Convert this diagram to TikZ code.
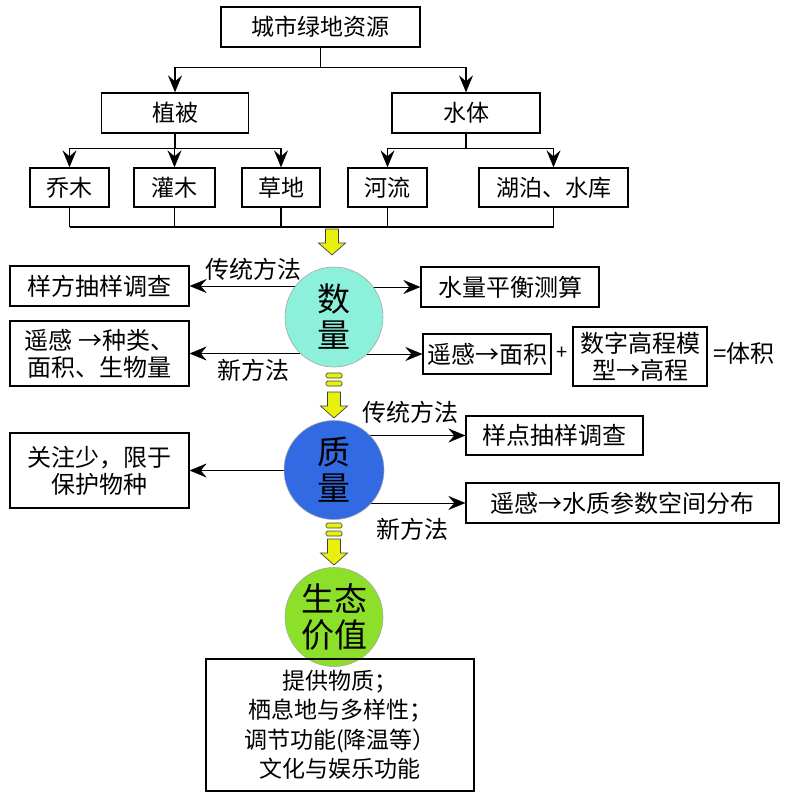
\documentclass[tikz,border=0pt]{standalone}
\usepackage{fontspec}
\setmainfont{Noto Sans CJK SC}
\usetikzlibrary{arrows.meta,shapes.geometric,backgrounds}

\definecolor{qtycol}{RGB}{140,240,218}
\definecolor{qualcol}{RGB}{50,106,228}
\definecolor{ecocol}{RGB}{140,224,42}
\definecolor{arrowyellow}{RGB}{232,240,12}

\tikzset{
  box/.style={draw, line width=1.3pt, inner sep=0pt, align=center, font=\fontsize{24}{27}\selectfont},
  blob/.style={ellipse, draw=black!35, line width=0.6pt, inner sep=0pt, minimum width=98pt, minimum height=100pt, align=center, font=\fontsize{33}{36}\selectfont},
  lbl/.style={inner sep=0pt, font=\fontsize{24}{28}\selectfont},
  yarrow/.style={draw=black!75, line width=0.7pt, fill=arrowyellow},
  fatarrow/.pic={
    \draw[yarrow] (-6.5,0) -- (6.5,0) -- (6.5,14) -- (13.5,14) -- (0,26) -- (-13.5,14) -- (-6.5,14) -- cycle;
  },
  fatbars/.pic={
    \draw[yarrow, rounded corners=1.5] (-8,0) rectangle (8,5);
    \draw[yarrow, rounded corners=1.5] (-8,8) rectangle (8,13);
  }
}

\begin{document}
\begin{tikzpicture}[>={Stealth[length=17pt,width=14pt,inset=6pt]}, line width=1.3pt, x=1pt, y=-1pt]
    \useasboundingbox (0,0) rectangle (785,800);
    % resources tree
    \node[box, minimum width=199pt, minimum height=40pt, font=\fontsize{23}{27}\selectfont] (top) at (320.5,27) {城市绿地资源};
    \node[box, minimum width=147pt, minimum height=40pt, font=\fontsize{23}{27}\selectfont] (veg) at (175,113) {植被};
    \node[box, minimum width=148pt, minimum height=40pt, font=\fontsize{23}{27}\selectfont] (water) at (466,113) {水体};
    \node[box, minimum width=79pt, minimum height=39pt, font=\fontsize{23}{27}\selectfont] (qiao) at (69.5,187.5) {乔木};
    \node[box, minimum width=81pt, minimum height=39pt, font=\fontsize{23}{27}\selectfont] (guan) at (174.5,187.5) {灌木};
    \node[box, minimum width=78pt, minimum height=39pt, font=\fontsize{23}{27}\selectfont] (cao) at (281,187.5) {草地};
    \node[box, minimum width=79pt, minimum height=39pt, font=\fontsize{23}{27}\selectfont] (he) at (387.5,187.5) {河流};
    \node[box, minimum width=149pt, minimum height=39pt, font=\fontsize{23}{27}\selectfont] (hu) at (553.5,187.5) {湖泊、水库};
    \coordinate (bus) at (332,227);

    \draw[->] (top.south) -- ++(0,20) -| (veg.north);
    \draw[->] (top.south) -- ++(0,20) -| (water.north);
    \foreach \n in {qiao,guan,cao}
        \draw[->] (veg.south) -- ++(0,15) -| (\n.north);
    \foreach \n in {he,hu}
        \draw[->] (water.south) -- ++(0,15) -| (\n.north);
    \foreach \n in {qiao,guan,cao,he,hu}
        \draw (\n.south) -- (\n.south |- bus);
    \draw (qiao.south |- bus) -- (hu.south |- bus);
    \pic at (332,229) {fatarrow};

    % quantity
    \node[blob, fill=qtycol] (qty) at (334,317) {数\\量};
    \node[box, minimum width=179pt, minimum height=40pt] (plot) at (99.5,286) {样方抽样调查};
    \node[box, minimum width=179pt, minimum height=65pt] (rsbio) at (99.5,353.5) {遥感 →种类、\\面积、生物量};
    \node[box, minimum width=178pt, minimum height=40pt] (bal) at (510,287) {水量平衡测算};
    \node[box, minimum width=128pt, minimum height=40pt] (area) at (487,354) {遥感→面积};
    \node[lbl, font=\fontsize{20}{24}\selectfont] (plus) at (562,353) {+};
    \node[box, minimum width=134pt, minimum height=59pt] (dem) at (640,356.5) {数字高程模\\型→高程};
    \node[lbl] (vol) at (744,353) {=体积};
    \node[lbl] (trad1) at (253,269) {传统方法};
    \node[lbl] (new1) at (253,370) {新方法};
    \pic at (334,373) {fatbars};
    \pic at (334,392) {fatarrow};

    % quality
    \node[blob, fill=qualcol, minimum width=100pt, minimum height=99pt] (qual) at (334,470) {质\\量};
    \node[box, minimum width=179pt, minimum height=75pt] (few) at (99.5,470.5) {关注少，限于\\保护物种};
    \node[box, minimum width=177pt, minimum height=39pt] (point) at (554.5,435.5) {样点抽样调查};
    \node[box, minimum width=313pt, minimum height=40pt] (wq) at (622.5,503) {遥感→水质参数空间分布};
    \node[lbl] (trad2) at (410,412) {传统方法};
    \node[lbl] (new2) at (412,529) {新方法};
    \pic at (334,523) {fatbars};
    \pic at (334,539) {fatarrow};

    % value
    \node[blob, fill=ecocol, minimum height=99pt] (eco) at (334,617) {生态\\价值};
    \node[box, minimum width=268pt, minimum height=132pt, font=\fontsize{23}{29.5}\selectfont] (func) at (340,725) {提供物质；\\栖息地与多样性；\\调节功能(降温等）\\文化与娱乐功能};

    \begin{scope}[on background layer]
        \draw[->] (qty.center |- plot.east) -- (plot.east);
        \draw[->] (qty.center |- rsbio.east) -- (rsbio.east);
        \draw[->] (qty.center |- bal.west) -- (bal.west);
        \draw[->] (qty.center |- area.west) -- (area.west);
        \draw[->] (qual.center |- point.west) -- (point.west);
        \draw[->] (qual.center |- few.east) -- (few.east);
        \draw[->] (qual.center |- wq.west) -- (wq.west);
    \end{scope}
\end{tikzpicture}
\end{document}
